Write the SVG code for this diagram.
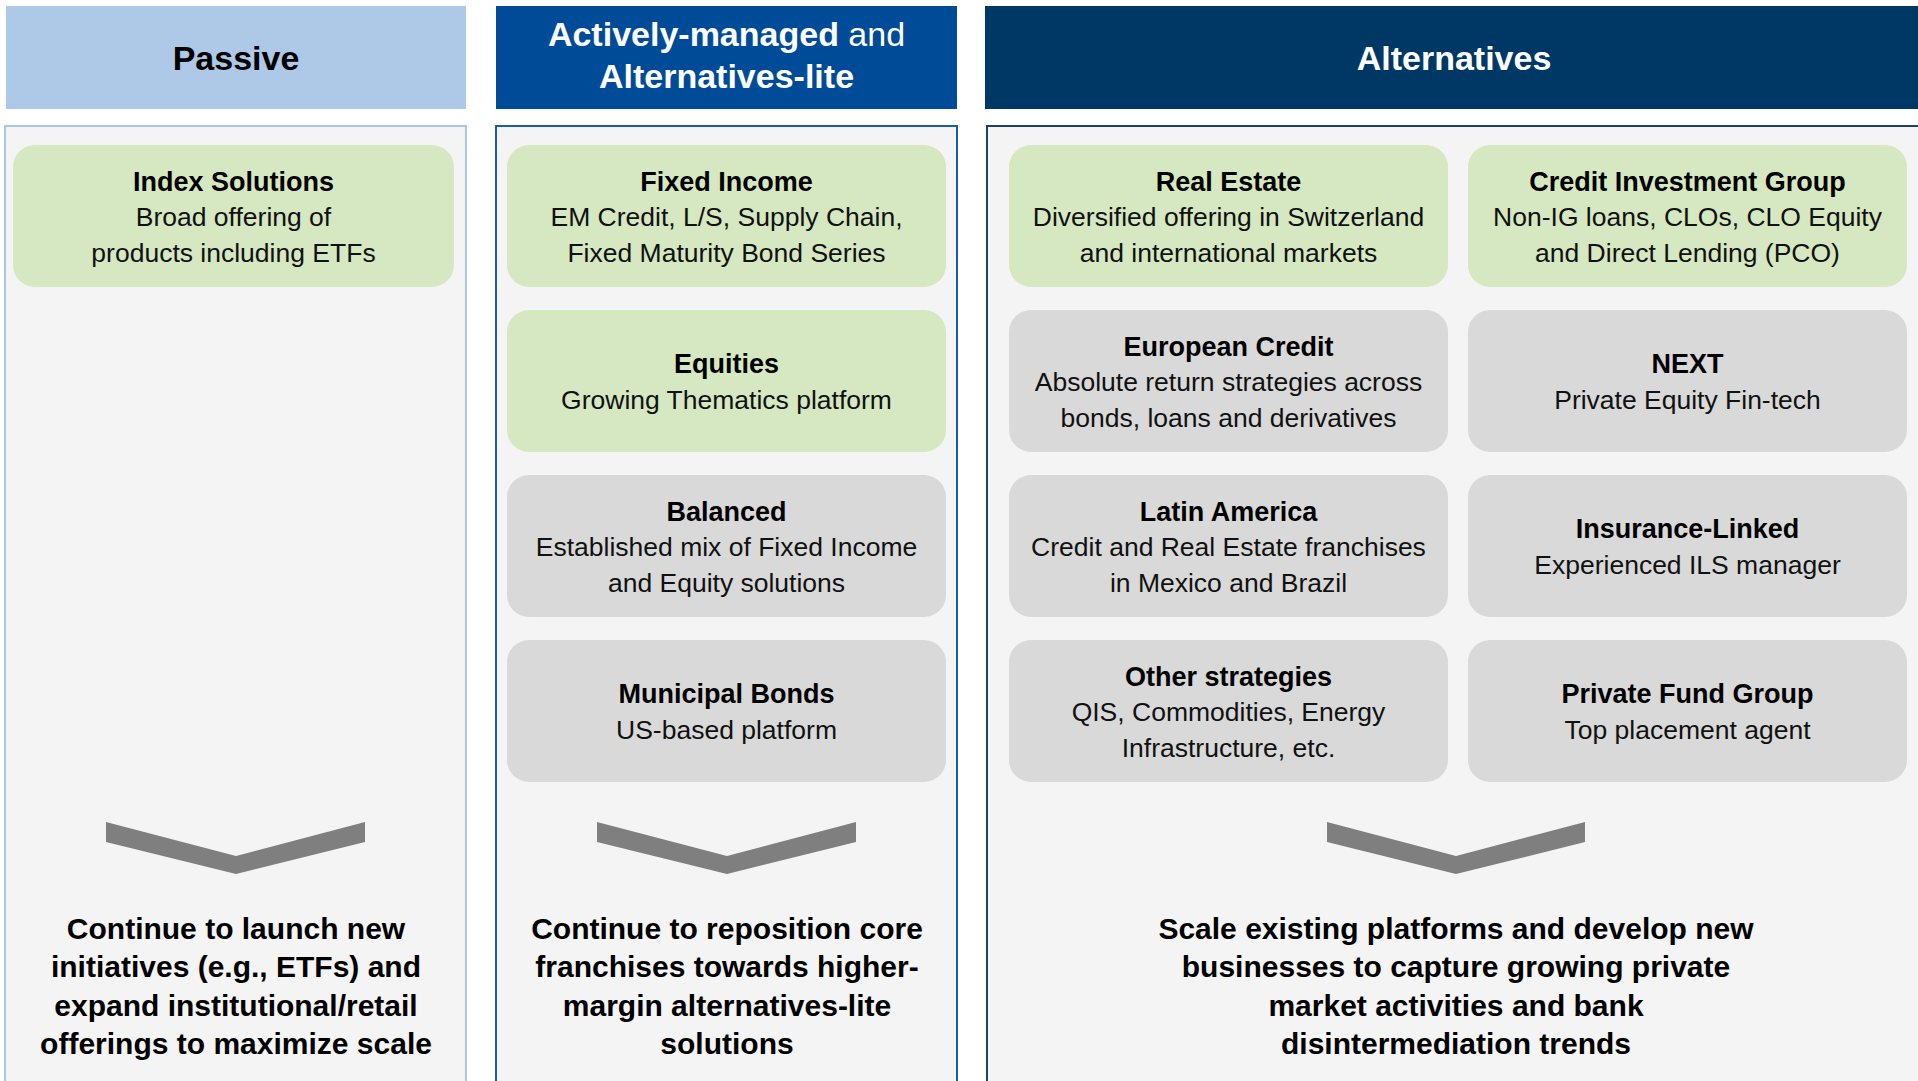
<svg xmlns="http://www.w3.org/2000/svg" width="1918" height="1081" viewBox="0 0 1918 1081">
<style>
  text { font-family: "Liberation Sans", Arial, sans-serif; text-anchor: middle; }
  .hdr { font-size: 34px; font-weight: bold; }
  .ttl { font-size: 27px; font-weight: bold; fill: #000; }
  .sub { font-size: 26.5px; fill: #111; }
  .btm { font-size: 30px; font-weight: bold; fill: #000; }
  .green { fill: #d5e8c1; }
  .gray { fill: #d9d9d9; }
  .chev { fill: #7f7f7f; }
</style>
<rect width="1918" height="1081" fill="#ffffff"/>

<!-- Column headers -->
<g id="hdr-passive">
  <rect x="6" y="6" width="460" height="103" fill="#aec8e8"/>
  <text class="hdr" x="236" y="70" fill="#000">Passive</text>
</g>
<g id="hdr-active">
  <rect x="496" y="6" width="461" height="103" fill="#004b97"/>
  <text class="hdr" x="726.5" y="46" fill="#fff">Actively-managed <tspan font-weight="normal">and</tspan></text>
  <text class="hdr" x="726.5" y="88" fill="#fff">Alternatives-lite</text>
</g>
<g id="hdr-alternatives">
  <rect x="985" y="6" width="945" height="103" fill="#003865"/>
  <text class="hdr" x="1454" y="70" fill="#fff">Alternatives</text>
</g>

<!-- Column panels -->
<g id="panel-passive">
  <rect x="5" y="126" width="461" height="970" fill="#f4f4f4" stroke="#a9c5e8" stroke-width="2"/>
</g>
<g id="panel-active">
  <rect x="496" y="126" width="461" height="970" fill="#f4f4f4" stroke="#1a5ca8" stroke-width="2"/>
</g>
<g id="panel-alternatives">
  <rect x="987" y="126" width="950" height="970" fill="#f4f4f4" stroke="#1f3f6b" stroke-width="2"/>
</g>

<!-- Passive nodes -->
<g id="node-index-solutions">
  <rect class="green" x="13" y="145" width="441" height="142" rx="22"/>
  <text class="ttl" x="233.5" y="190.5">Index Solutions</text>
  <text class="sub" x="233.5" y="226">Broad offering of</text>
  <text class="sub" x="233.5" y="261.5">products including ETFs</text>
</g>

<!-- Active nodes -->
<g id="node-fixed-income">
  <rect class="green" x="507" y="145" width="439" height="142" rx="22"/>
  <text class="ttl" x="726.5" y="190.5">Fixed Income</text>
  <text class="sub" x="726.5" y="226">EM Credit, L/S, Supply Chain,</text>
  <text class="sub" x="726.5" y="261.5">Fixed Maturity Bond Series</text>
</g>
<g id="node-equities">
  <rect class="green" x="507" y="310" width="439" height="142" rx="22"/>
  <text class="ttl" x="726.5" y="373">Equities</text>
  <text class="sub" x="726.5" y="408.5">Growing Thematics platform</text>
</g>
<g id="node-balanced">
  <rect class="gray" x="507" y="475" width="439" height="142" rx="22"/>
  <text class="ttl" x="726.5" y="520.5">Balanced</text>
  <text class="sub" x="726.5" y="556">Established mix of Fixed Income</text>
  <text class="sub" x="726.5" y="591.5">and Equity solutions</text>
</g>
<g id="node-municipal-bonds">
  <rect class="gray" x="507" y="640" width="439" height="142" rx="22"/>
  <text class="ttl" x="726.5" y="703">Municipal Bonds</text>
  <text class="sub" x="726.5" y="738.5">US-based platform</text>
</g>

<!-- Alternatives nodes, column 1 -->
<g id="node-real-estate">
  <rect class="green" x="1009" y="145" width="439" height="142" rx="22"/>
  <text class="ttl" x="1228.5" y="190.5">Real Estate</text>
  <text class="sub" x="1228.5" y="226">Diversified offering in Switzerland</text>
  <text class="sub" x="1228.5" y="261.5">and international markets</text>
</g>
<g id="node-european-credit">
  <rect class="gray" x="1009" y="310" width="439" height="142" rx="22"/>
  <text class="ttl" x="1228.5" y="355.5">European Credit</text>
  <text class="sub" x="1228.5" y="391">Absolute return strategies across</text>
  <text class="sub" x="1228.5" y="426.5">bonds, loans and derivatives</text>
</g>
<g id="node-latin-america">
  <rect class="gray" x="1009" y="475" width="439" height="142" rx="22"/>
  <text class="ttl" x="1228.5" y="520.5">Latin America</text>
  <text class="sub" x="1228.5" y="556">Credit and Real Estate franchises</text>
  <text class="sub" x="1228.5" y="591.5">in Mexico and Brazil</text>
</g>
<g id="node-other-strategies">
  <rect class="gray" x="1009" y="640" width="439" height="142" rx="22"/>
  <text class="ttl" x="1228.5" y="685.5">Other strategies</text>
  <text class="sub" x="1228.5" y="721">QIS, Commodities, Energy</text>
  <text class="sub" x="1228.5" y="756.5">Infrastructure, etc.</text>
</g>

<!-- Alternatives nodes, column 2 -->
<g id="node-credit-investment-group">
  <rect class="green" x="1468" y="145" width="439" height="142" rx="22"/>
  <text class="ttl" x="1687.5" y="190.5">Credit Investment Group</text>
  <text class="sub" x="1687.5" y="226">Non-IG loans, CLOs, CLO Equity</text>
  <text class="sub" x="1687.5" y="261.5">and Direct Lending (PCO)</text>
</g>
<g id="node-next">
  <rect class="gray" x="1468" y="310" width="439" height="142" rx="22"/>
  <text class="ttl" x="1687.5" y="373">NEXT</text>
  <text class="sub" x="1687.5" y="408.5">Private Equity Fin-tech</text>
</g>
<g id="node-insurance-linked">
  <rect class="gray" x="1468" y="475" width="439" height="142" rx="22"/>
  <text class="ttl" x="1687.5" y="538">Insurance-Linked</text>
  <text class="sub" x="1687.5" y="573.5">Experienced ILS manager</text>
</g>
<g id="node-private-fund-group">
  <rect class="gray" x="1468" y="640" width="439" height="142" rx="22"/>
  <text class="ttl" x="1687.5" y="703">Private Fund Group</text>
  <text class="sub" x="1687.5" y="738.5">Top placement agent</text>
</g>

<!-- Connectors (chevrons) -->
<g id="connectors">
  <polygon class="chev" points="106,822 236,856 365,822 365,842 236,874 106,842"/>
  <polygon class="chev" points="597,822 727,856 856,822 856,842 727,874 597,842"/>
  <polygon class="chev" points="1327,822 1456,856 1585,822 1585,842 1456,874 1327,842"/>
</g>

<!-- Bottom summaries -->
<g id="summary-passive">
  <text class="btm" x="236" y="939">Continue to launch new</text>
  <text class="btm" x="236" y="977">initiatives (e.g., ETFs) and</text>
  <text class="btm" x="236" y="1016">expand institutional/retail</text>
  <text class="btm" x="236" y="1054">offerings to maximize scale</text>
</g>
<g id="summary-active">
  <text class="btm" x="727" y="939">Continue to reposition core</text>
  <text class="btm" x="727" y="977">franchises towards higher-</text>
  <text class="btm" x="727" y="1016">margin alternatives-lite</text>
  <text class="btm" x="727" y="1054">solutions</text>
</g>
<g id="summary-alternatives">
  <text class="btm" x="1456" y="939">Scale existing platforms and develop new</text>
  <text class="btm" x="1456" y="977">businesses to capture growing private</text>
  <text class="btm" x="1456" y="1016">market activities and bank</text>
  <text class="btm" x="1456" y="1054">disintermediation trends</text>
</g>
</svg>
